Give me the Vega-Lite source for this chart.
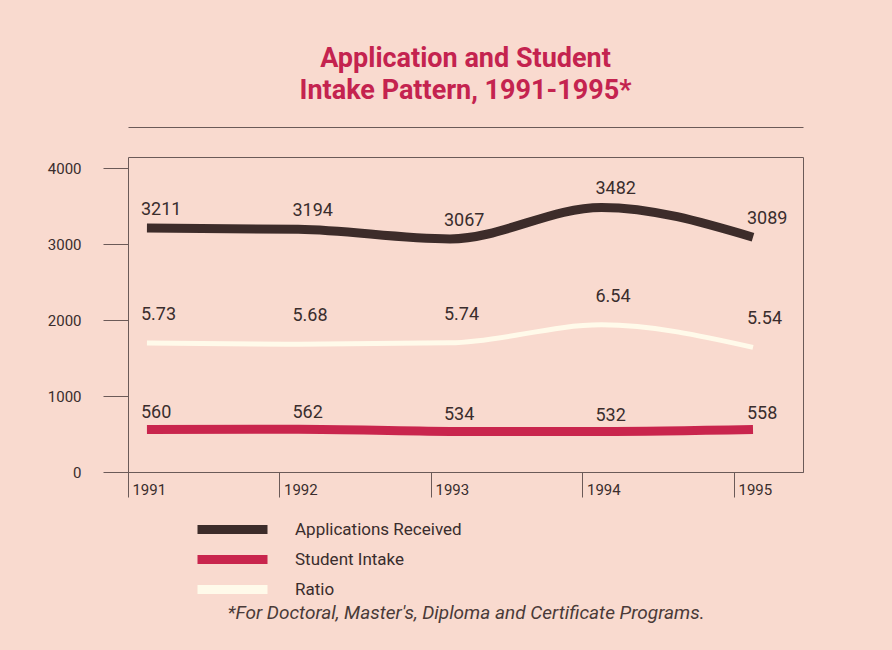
{
  "$schema": "https://vega.github.io/schema/vega-lite/v6.json",
  "width": 675,
  "height": 315,
  "autosize": "none",
  "padding": {"left": 128, "top": 157, "right": 89, "bottom": 178},
  "background": "#f9dacf",
  "title": {
    "text": ["Application and Student", "Intake Pattern, 1991-1995*"],
    "fontSize": 27,
    "fontWeight": "bold",
    "color": "#c4234f",
    "anchor": "middle",
    "lineHeight": 32,
    "offset": 22
  },
  "data": {
    "values": [
      {"year": 1991, "series": "Applications Received", "value": 3211},
      {"year": 1992, "series": "Applications Received", "value": 3194},
      {"year": 1993, "series": "Applications Received", "value": 3067},
      {"year": 1994, "series": "Applications Received", "value": 3482},
      {"year": 1995, "series": "Applications Received", "value": 3089},
      {"year": 1991, "series": "Student Intake", "value": 560},
      {"year": 1992, "series": "Student Intake", "value": 562},
      {"year": 1993, "series": "Student Intake", "value": 534},
      {"year": 1994, "series": "Student Intake", "value": 532},
      {"year": 1995, "series": "Student Intake", "value": 558},
      {"year": 1991, "series": "Ratio", "value": 5.73},
      {"year": 1992, "series": "Ratio", "value": 5.68},
      {"year": 1993, "series": "Ratio", "value": 5.74},
      {"year": 1994, "series": "Ratio", "value": 6.54},
      {"year": 1995, "series": "Ratio", "value": 5.54}
    ]
  },
  "layer": [
    {
      "transform": [{"filter": "datum.series !== 'Ratio'"}],
      "encoding": {
        "x": {
          "field": "year",
          "type": "quantitative",
          "scale": {"domain": [1990.875, 1995.33], "nice": false, "zero": false},
          "axis": {
            "orient": "bottom",
            "values": [1991, 1992, 1993, 1994, 1995],
            "format": "d",
            "tickOffset": -19,
            "tickSize": 25,
            "labelAlign": "left",
            "labelBaseline": "top",
            "labelOffset": 4,
            "labelPadding": -15,
            "grid": false,
            "title": "*For Doctoral, Master's, Diploma and Certificate Programs.",
            "titleFontStyle": "italic",
            "titleFontWeight": "normal",
            "titleFontSize": 19,
            "titleColor": "#4a3a38",
            "titlePadding": 106
          }
        },
        "y": {
          "field": "value",
          "type": "quantitative",
          "scale": {"domain": [0, 4145], "nice": false},
          "axis": {
            "values": [0, 1000, 2000, 3000, 4000],
            "format": "d",
            "tickSize": 25,
            "labelPadding": 22,
            "domain": false,
            "grid": false,
            "title": null
          }
        }
      },
      "layer": [
        {
          "mark": {"type": "line", "interpolate": "monotone", "strokeWidth": 9, "strokeCap": "butt"},
          "encoding": {
            "color": {
              "field": "series",
              "type": "nominal",
              "scale": {
                "domain": ["Applications Received", "Student Intake", "Ratio"],
                "range": ["#3d2c2a", "#c9254d", "#fffaea"]
              },
              "legend": {
                "orient": "none",
                "legendX": 93,
                "legendY": 361,
                "title": null,
                "symbolType": "M-5,0H5",
                "symbolStrokeWidth": 9,
                "symbolSize": 196,
                "labelFontSize": 17,
                "labelColor": "#3a2d2d",
                "labelOffset": 51,
                "labelLimit": 300,
                "rowPadding": -13
              }
            }
          }
        },
        {
          "transform": [{"filter": "datum.series === 'Applications Received'"}],
          "mark": {"type": "text", "align": "left", "dx": -6, "dy": -18, "fontSize": 18, "color": "#3a2d2d"},
          "encoding": {"text": {"field": "value", "type": "quantitative", "format": "d"}}
        },
        {
          "transform": [{"filter": "datum.series === 'Student Intake'"}],
          "mark": {"type": "text", "align": "left", "dx": -6, "dy": -16, "fontSize": 18, "color": "#3a2d2d"},
          "encoding": {"text": {"field": "value", "type": "quantitative", "format": "d"}}
        }
      ]
    },
    {
      "transform": [{"filter": "datum.series === 'Ratio'"}],
      "encoding": {
        "x": {
          "field": "year",
          "type": "quantitative",
          "axis": {"orient": "top", "offset": 30, "labels": false, "ticks": false, "domain": true, "grid": false, "title": null}
        },
        "y": {
          "field": "value",
          "type": "quantitative",
          "scale": {"domain": [0, 14], "nice": false},
          "axis": null
        }
      },
      "layer": [
        {
          "mark": {"type": "line", "interpolate": "monotone", "strokeWidth": 5, "strokeCap": "butt"},
          "encoding": {"color": {"field": "series", "type": "nominal"}}
        },
        {
          "mark": {"type": "text", "align": "left", "dx": -6, "dy": -28, "fontSize": 18, "color": "#3a2d2d"},
          "encoding": {"text": {"field": "value", "type": "quantitative", "format": ".2f"}}
        }
      ]
    }
  ],
  "resolve": {"scale": {"y": "independent"}, "axis": {"x": "independent"}},
  "config": {
    "font": "Roboto",
    "view": {"stroke": "#6b5a58", "strokeWidth": 1},
    "axis": {
      "domainColor": "#6b5a58",
      "tickColor": "#6b5a58",
      "labelFontSize": 15,
      "labelColor": "#3a2d2d"
    }
  }
}
